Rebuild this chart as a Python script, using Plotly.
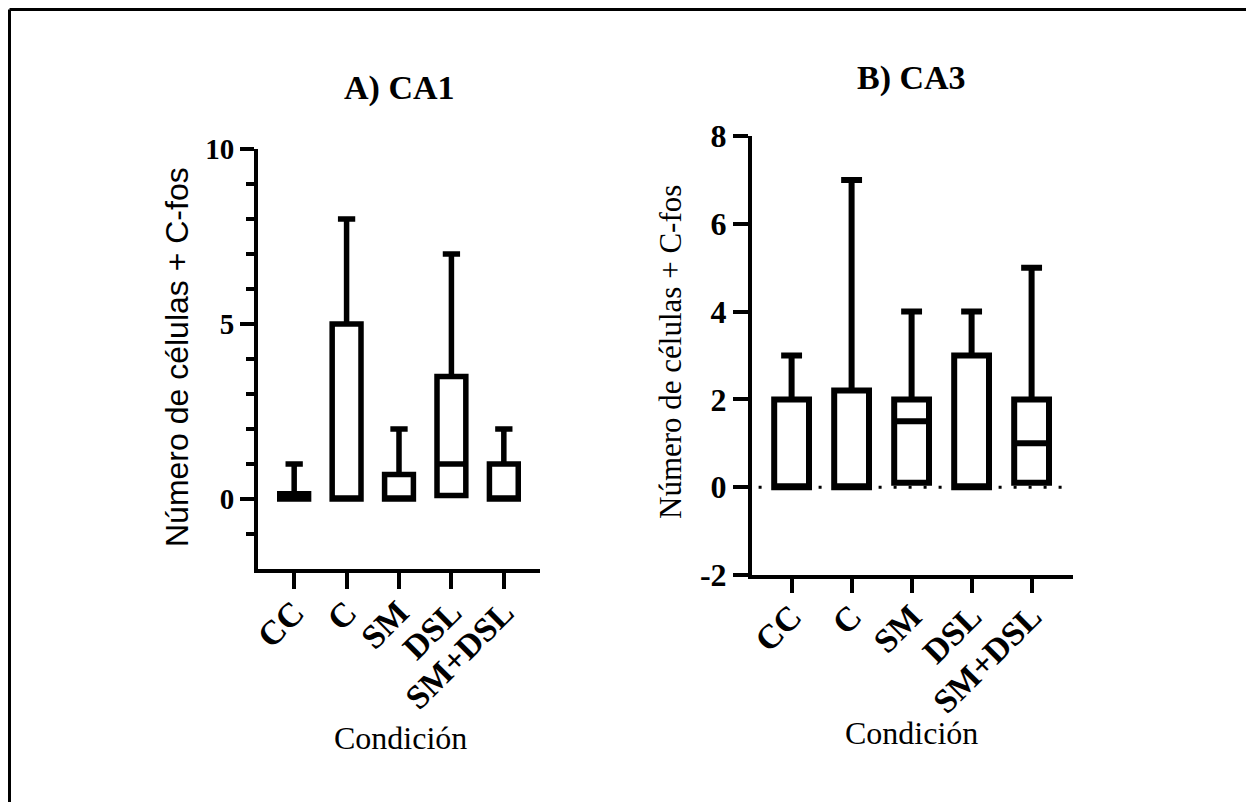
import plotly.graph_objects as go

categories = ["CC", "C", "SM", "DSL", "SM+DSL"]

# Panel A) CA1
ca1_min = [0, 0, 0, 0.1, 0]
ca1_q1 = [0, 0, 0, 0.1, 0]
ca1_median = [0, 0, 0, 1, 0]
ca1_q3 = [0.15, 5, 0.7, 3.5, 1]
ca1_max = [1, 8, 2, 7, 2]
ca1_ticks = [0, 5, 10]
ca1_minor = [-1, 1, 2, 3, 4, 6, 7, 8, 9]

# Panel B) CA3
ca3_min = [0, 0, 0.1, 0, 0.1]
ca3_q1 = [0, 0, 0.1, 0, 0.1]
ca3_median = [0, 0, 1.5, 0, 1]
ca3_q3 = [2, 2.2, 2, 3, 2]
ca3_max = [3, 7, 4, 4, 5]
ca3_ticks = [-2, 0, 2, 4, 6, 8]
ca3_ticktext = ["-2", "0", "2", "4", "6", "8"]

W, H = 1254, 802
OFF = 8  # page body margin
SERIF = "Liberation Serif, Times New Roman, serif"
SANS = "Liberation Sans, Arial, sans-serif"

fig = go.Figure()

def add_box(q1, med, q3, lo, hi, xa, ya, lw, bw):
    fig.add_trace(go.Box(
        x=categories, q1=q1, median=med, q3=q3,
        lowerfence=lo, upperfence=hi,
        boxpoints=False, width=bw, whiskerwidth=0.6,
        fillcolor="white", line=dict(color="black", width=lw),
        xaxis=xa, yaxis=ya, showlegend=False, hoverinfo="skip",
    ))

add_box(ca1_q1, ca1_median, ca1_q3, ca1_min, ca1_max, "x", "y", 5.5, 0.55)
add_box(ca3_q1, ca3_median, ca3_q3, ca3_min, ca3_max, "x2", "y2", 6, 0.58)

def px_x(p):
    return (p - OFF) / W

def px_y(p):
    return 1 - (p - OFF) / H

def xa_common(size):
    return dict(
        showline=True, linewidth=4, linecolor="black", ticks="outside",
        tickwidth=4, tickcolor="black", tickangle=-45, showgrid=False,
        zeroline=False, type="category", automargin=False,
        ticklabelstandoff=-10,
        tickfont=dict(family=SERIF, size=size, color="black", weight="bold"),
    )

def ya_common(size):
    return dict(
        showline=True, linewidth=4, linecolor="black", ticks="outside",
        tickwidth=4, tickcolor="black", showgrid=False, zeroline=False,
        automargin=False,
        tickfont=dict(family=SERIF, size=size, color="black", weight="bold"),
    )

fig.update_layout(
    width=W, height=H, autosize=False,
    margin=dict(l=0, r=0, t=0, b=0, pad=0, autoexpand=False),
    paper_bgcolor="white", plot_bgcolor="white",
    xaxis=dict(domain=[px_x(258), px_x(540)], range=[-0.69, 4.69],
               anchor="y", ticklen=16, **xa_common(34)),
    yaxis=dict(domain=[px_y(569), px_y(149)], range=[-2, 10],
               anchor="x", tickmode="array", tickvals=ca1_ticks,
               ticklen=14,
               minor=dict(tickmode="array", tickvals=ca1_minor,
                          ticklen=8, tickwidth=4, tickcolor="black", ticks="outside"),
               **ya_common(29)),
    xaxis2=dict(domain=[px_x(752), px_x(1073)], range=[-0.66, 4.69],
                anchor="y2", ticklen=14, **xa_common(34)),
    yaxis2=dict(domain=[px_y(575), px_y(136)], range=[-2, 8],
                anchor="x2", tickmode="array", tickvals=ca3_ticks,
                ticktext=ca3_ticktext, ticklen=15, **ya_common(32)),
)

# dotted zero line in panel B
fig.add_shape(type="line", xref="x2", yref="y2", x0=-0.55, x1=4.55, y0=0, y1=0,
              line=dict(color="black", width=3, dash="3px,12px"), layer="above")

# outer frame (left and top edges)
fig.add_shape(type="line", xref="paper", yref="paper",
              x0=px_x(9.5), x1=px_x(9.5), y0=px_y(9.5), y1=-0.05,
              line=dict(color="black", width=3))
fig.add_shape(type="line", xref="paper", yref="paper",
              x0=px_x(9.5), x1=1.05, y0=px_y(9.5), y1=px_y(9.5),
              line=dict(color="black", width=3))

def ann(text, x, y, font, angle=0):
    fig.add_annotation(text=text, x=px_x(x), y=px_y(y), xref="paper", yref="paper",
                       showarrow=False, xanchor="center", yanchor="middle",
                       textangle=angle, font=font)

ann("A) CA1", 399, 88, dict(family=SERIF, size=34, color="black", weight="bold"))
ann("B) CA3", 912, 78, dict(family=SERIF, size=34, color="black", weight="bold"))
ann("Número de células + C-fos", 177, 357, dict(family=SANS, size=32, color="black"), -90)
ann("Número de células + C-fos", 671, 352, dict(family=SERIF, size=31, color="black"), -90)
ann("Condición", 400, 738, dict(family=SERIF, size=32, color="black"))
ann("Condición", 912, 733, dict(family=SERIF, size=32, color="black"))

fig.write_html("out.html")
